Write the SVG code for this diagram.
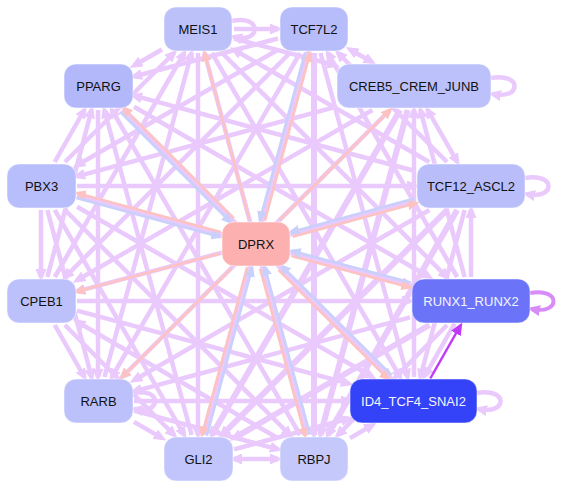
<svg xmlns="http://www.w3.org/2000/svg" width="561" height="489" viewBox="0 0 561 489">
<style>
.e{stroke:#eac9fc;stroke-width:4.5;fill:none;marker-end:url(#ap)}
.w{stroke-width:6}
.b{marker-start:url(#aps)}
.r{stroke:#fdc2c2;stroke-width:2.6;fill:none;marker-end:url(#ar)}
.u{stroke:#c9d0fb;stroke-width:2.6;fill:none;marker-end:url(#au)}
.n rect{stroke:#ffffff;stroke-opacity:0.5;stroke-width:1}
.n text{font-family:"Liberation Sans",Arial,sans-serif;font-size:13px;text-anchor:middle;fill:#111}
.n text.l{fill:#f4f4ff}
</style>
<defs>
<marker id="ap" markerUnits="userSpaceOnUse" markerWidth="13" markerHeight="11" viewBox="0 0 13 11" refX="8" refY="5.5" orient="auto"><path d="M0,0 L13,5.5 L0,11 z" fill="#eac9fc"/></marker>
<marker id="aps" markerUnits="userSpaceOnUse" markerWidth="13" markerHeight="11" viewBox="0 0 13 11" refX="8" refY="5.5" orient="auto-start-reverse"><path d="M0,0 L13,5.5 L0,11 z" fill="#eac9fc"/></marker>
<marker id="ar" markerUnits="userSpaceOnUse" markerWidth="12" markerHeight="10" viewBox="0 0 12 10" refX="8" refY="5" orient="auto"><path d="M0,0 L12,5 L0,10 z" fill="#fdc2c2"/></marker>
<marker id="au" markerUnits="userSpaceOnUse" markerWidth="12" markerHeight="10" viewBox="0 0 12 10" refX="8" refY="5" orient="auto"><path d="M0,0 L12,5 L0,10 z" fill="#c9d0fb"/></marker>
<marker id="ad" markerUnits="userSpaceOnUse" markerWidth="13" markerHeight="11" viewBox="0 0 13 11" refX="8" refY="5.5" orient="auto"><path d="M0,0 L13,5.5 L0,11 z" fill="#c23af8"/></marker>
<marker id="al" markerUnits="userSpaceOnUse" markerWidth="13" markerHeight="11" viewBox="0 0 13 11" refX="8" refY="5.5" orient="auto"><path d="M0,0 L13,5.5 L0,11 z" fill="#d88cf8"/></marker>
</defs>
<g id="edges">
<line class="e" x1="234" y1="29" x2="278" y2="29"/>
<line class="e" x1="162" y1="49.5" x2="134" y2="65.5"/>
<line class="e" x1="234" y1="38.5" x2="335" y2="65.2"/>
<line class="e" x1="65" y1="162" x2="174" y2="53"/>
<line class="e" x1="429.3" y1="162" x2="234" y2="49.7"/>
<line class="e" x1="54.8" y1="277" x2="184.2" y2="53"/>
<line class="e" x1="222.1" y1="53" x2="446.9" y2="277"/>
<line class="e" x1="104.5" y1="377" x2="191.5" y2="53"/>
<line class="e" x1="211.9" y1="53" x2="400.1" y2="377"/>
<line class="e" x1="198" y1="53" x2="198" y2="435"/>
<line class="e" x1="307.5" y1="435" x2="204.5" y2="53"/>
<line class="e" x1="278" y1="38.5" x2="134" y2="76.5"/>
<line class="e b" x1="350" y1="49.5" x2="371.9" y2="62"/>
<line class="e" x1="278" y1="49.7" x2="77" y2="165.3"/>
<line class="e" x1="447" y1="162" x2="338" y2="53"/>
<line class="e" x1="289.9" y1="53" x2="65.1" y2="277"/>
<line class="e" x1="457.2" y1="277" x2="327.8" y2="53"/>
<line class="e" x1="300.1" y1="53" x2="111.9" y2="377"/>
<line class="e" x1="320.5" y1="53" x2="407.6" y2="377"/>
<line class="e" x1="204.5" y1="435" x2="307.5" y2="53"/>
<line class="e w" x1="314" y1="53" x2="314" y2="435"/>
<line class="e" x1="54.7" y1="162" x2="84.3" y2="110"/>
<line class="e" x1="415" y1="171" x2="134" y2="95.7"/>
<line class="e" x1="47.4" y1="277" x2="91.6" y2="110"/>
<line class="e" x1="134" y1="106.7" x2="429.4" y2="277"/>
<line class="e" x1="98" y1="110" x2="98" y2="377"/>
<line class="e" x1="122.1" y1="110" x2="389.9" y2="377"/>
<line class="e" x1="191.6" y1="435" x2="104.4" y2="110"/>
<line class="e" x1="300.1" y1="435" x2="111.9" y2="110"/>
<line class="e" x1="335" y1="107.2" x2="77" y2="176.3"/>
<line class="e b" x1="427.7" y1="110" x2="457.3" y2="162"/>
<line class="e" x1="372.4" y1="110" x2="77" y2="280.3"/>
<line class="e" x1="464.6" y1="277" x2="420.4" y2="110"/>
<line class="e" x1="389.9" y1="110" x2="122.1" y2="377"/>
<line class="e" x1="414" y1="377" x2="414" y2="110"/>
<line class="e w" x1="400.1" y1="110" x2="211.9" y2="435"/>
<line class="e w" x1="407.6" y1="110" x2="320.4" y2="435"/>
<line class="e" x1="77" y1="186" x2="415" y2="186"/>
<line class="e" x1="41" y1="210" x2="41" y2="277"/>
<line class="e" x1="77" y1="195.6" x2="410" y2="284.7"/>
<line class="e" x1="47.4" y1="210" x2="91.6" y2="377"/>
<line class="e" x1="77" y1="206.7" x2="372.4" y2="377"/>
<line class="e" x1="54.8" y1="210" x2="184.2" y2="435"/>
<line class="e" x1="65" y1="210" x2="290" y2="435"/>
<line class="e" x1="415" y1="201" x2="77" y2="291.4"/>
<line class="e" x1="471" y1="277" x2="471" y2="210"/>
<line class="e" x1="429.4" y1="210" x2="134" y2="380.3"/>
<line class="e" x1="464.6" y1="210" x2="420.4" y2="377"/>
<line class="e w" x1="447" y1="210" x2="222" y2="435"/>
<line class="e w" x1="457.2" y1="210" x2="327.8" y2="435"/>
<line class="e" x1="77" y1="301" x2="410" y2="301"/>
<line class="e" x1="54.7" y1="325" x2="84.3" y2="377"/>
<line class="e" x1="77" y1="310.7" x2="349" y2="383.6"/>
<line class="e" x1="64.9" y1="325" x2="174.1" y2="435"/>
<line class="e" x1="278" y1="438.2" x2="77" y2="321.8"/>
<line class="e" x1="410" y1="317.4" x2="134" y2="391.4"/>
<line class="e w" x1="429.5" y1="325" x2="234" y2="438.2"/>
<line class="e" x1="447.1" y1="325" x2="337.9" y2="435"/>
<line class="e" x1="134" y1="401" x2="349" y2="401"/>
<line class="e" x1="134" y1="421.9" x2="162" y2="438.1"/>
<line class="e" x1="134" y1="410.7" x2="278" y2="449.3"/>
<line class="e" x1="234" y1="449.3" x2="349" y2="418.5"/>
<line class="e" x1="350" y1="438.1" x2="372.6" y2="425"/>
<line class="e b" x1="234" y1="459" x2="278" y2="459"/>
<line class="e" x1="454.7" y1="323.5" x2="425.1" y2="375.5"/>
<line x1="430.3" y1="378.5" x2="459.9" y2="326.5" stroke="#c23af8" stroke-width="2.5" marker-end="url(#ad)"/>
<path class="e" d="M232,21 C262,14 262,44 234,37"/>
<path class="e" d="M491,78 C522,72 522,100 493,94"/>
<path class="e" d="M525,178 C556,172 556,200 527,194"/>
<path d="M530,293 C561,287 561,315 532,309" fill="none" stroke="#d88cf8" stroke-width="4" marker-end="url(#al)"/>
<path class="e" d="M477,393 C508,387 508,415 479,409"/>
<path class="e" d="M133,393 C162,387 162,415 135,409"/>
<line class="r" x1="249.5" y1="220" x2="204.5" y2="53"/>
<line class="r" x1="264.9" y1="220.7" x2="309.9" y2="53.7"/>
<line class="u" x1="305.1" y1="52.4" x2="260.1" y2="219.4"/>
<line class="r" x1="233.8" y1="218.2" x2="123.8" y2="108.2"/>
<line class="u" x1="120.2" y1="111.8" x2="230.2" y2="221.8"/>
<line class="r" x1="280" y1="220" x2="390" y2="110"/>
<line class="r" x1="220.7" y1="231.9" x2="77.7" y2="193.3"/>
<line class="u" x1="76.4" y1="198.1" x2="219.4" y2="236.7"/>
<line class="r" x1="292.7" y1="236.7" x2="415.7" y2="203.3"/>
<line class="u" x1="414.4" y1="198.5" x2="291.4" y2="231.9"/>
<line class="r" x1="220" y1="253.5" x2="77" y2="291.5"/>
<line class="r" x1="291.4" y1="255.9" x2="409.4" y2="287.2"/>
<line class="u" x1="410.6" y1="282.4" x2="292.6" y2="251.1"/>
<line class="r" x1="231.8" y1="268" x2="122.2" y2="377"/>
<line class="r" x1="278.4" y1="269.8" x2="388" y2="378.8"/>
<line class="u" x1="391.6" y1="375.2" x2="282" y2="266.2"/>
<line class="r" x1="247.1" y1="267.4" x2="202.1" y2="434.4"/>
<line class="u" x1="206.9" y1="435.7" x2="251.9" y2="268.7"/>
<line class="r" x1="260.1" y1="268.7" x2="305.1" y2="435.7"/>
<line class="u" x1="309.9" y1="434.4" x2="264.9" y2="267.4"/>
</g>
<g id="MEIS1" class="n"><rect x="164" y="7" width="68" height="44" rx="12" fill="#bcc1fa"/><text x="198" y="33.5">MEIS1</text></g>
<g id="TCF7L2" class="n"><rect x="280" y="7" width="68" height="44" rx="12" fill="#b7bcfb"/><text x="314" y="33.5">TCF7L2</text></g>
<g id="PPARG" class="n"><rect x="64" y="64" width="69" height="44" rx="12" fill="#b3b8fb"/><text x="98.5" y="90.5">PPARG</text></g>
<g id="CREB5_CREM_JUNB" class="n"><rect x="337" y="64" width="154" height="44" rx="12" fill="#bcc1fb"/><text x="414" y="90.5">CREB5_CREM_JUNB</text></g>
<g id="PBX3" class="n"><rect x="7" y="164" width="69" height="44" rx="12" fill="#b8bdfb"/><text x="41.5" y="190.5">PBX3</text></g>
<g id="TCF12_ASCL2" class="n"><rect x="417" y="164" width="108" height="44" rx="12" fill="#b9befb"/><text x="471" y="190.5">TCF12_ASCL2</text></g>
<g id="DPRX" class="n"><rect x="222" y="222" width="68" height="44" rx="12" fill="#fcb0b0"/><text x="256" y="248.5">DPRX</text></g>
<g id="CPEB1" class="n"><rect x="7" y="279" width="69" height="44" rx="12" fill="#bcc1fb"/><text x="41.5" y="305.5">CPEB1</text></g>
<g id="RUNX1_RUNX2" class="n"><rect x="412" y="279" width="118" height="44" rx="12" fill="#6b74f8"/><text class="l" x="471" y="305.5">RUNX1_RUNX2</text></g>
<g id="RARB" class="n"><rect x="64" y="379" width="69" height="44" rx="12" fill="#bcc1fb"/><text x="98.5" y="405.5">RARB</text></g>
<g id="ID4_TCF4_SNAI2" class="n"><rect x="350" y="379" width="127" height="44" rx="12" fill="#3442f8"/><text class="l" x="413.5" y="405.5">ID4_TCF4_SNAI2</text></g>
<g id="GLI2" class="n"><rect x="164" y="437" width="69" height="44" rx="12" fill="#c1c5fb"/><text x="198.5" y="463.5">GLI2</text></g>
<g id="RBPJ" class="n"><rect x="280" y="437" width="68" height="44" rx="12" fill="#c5c8fb"/><text x="314" y="463.5">RBPJ</text></g>
</svg>
